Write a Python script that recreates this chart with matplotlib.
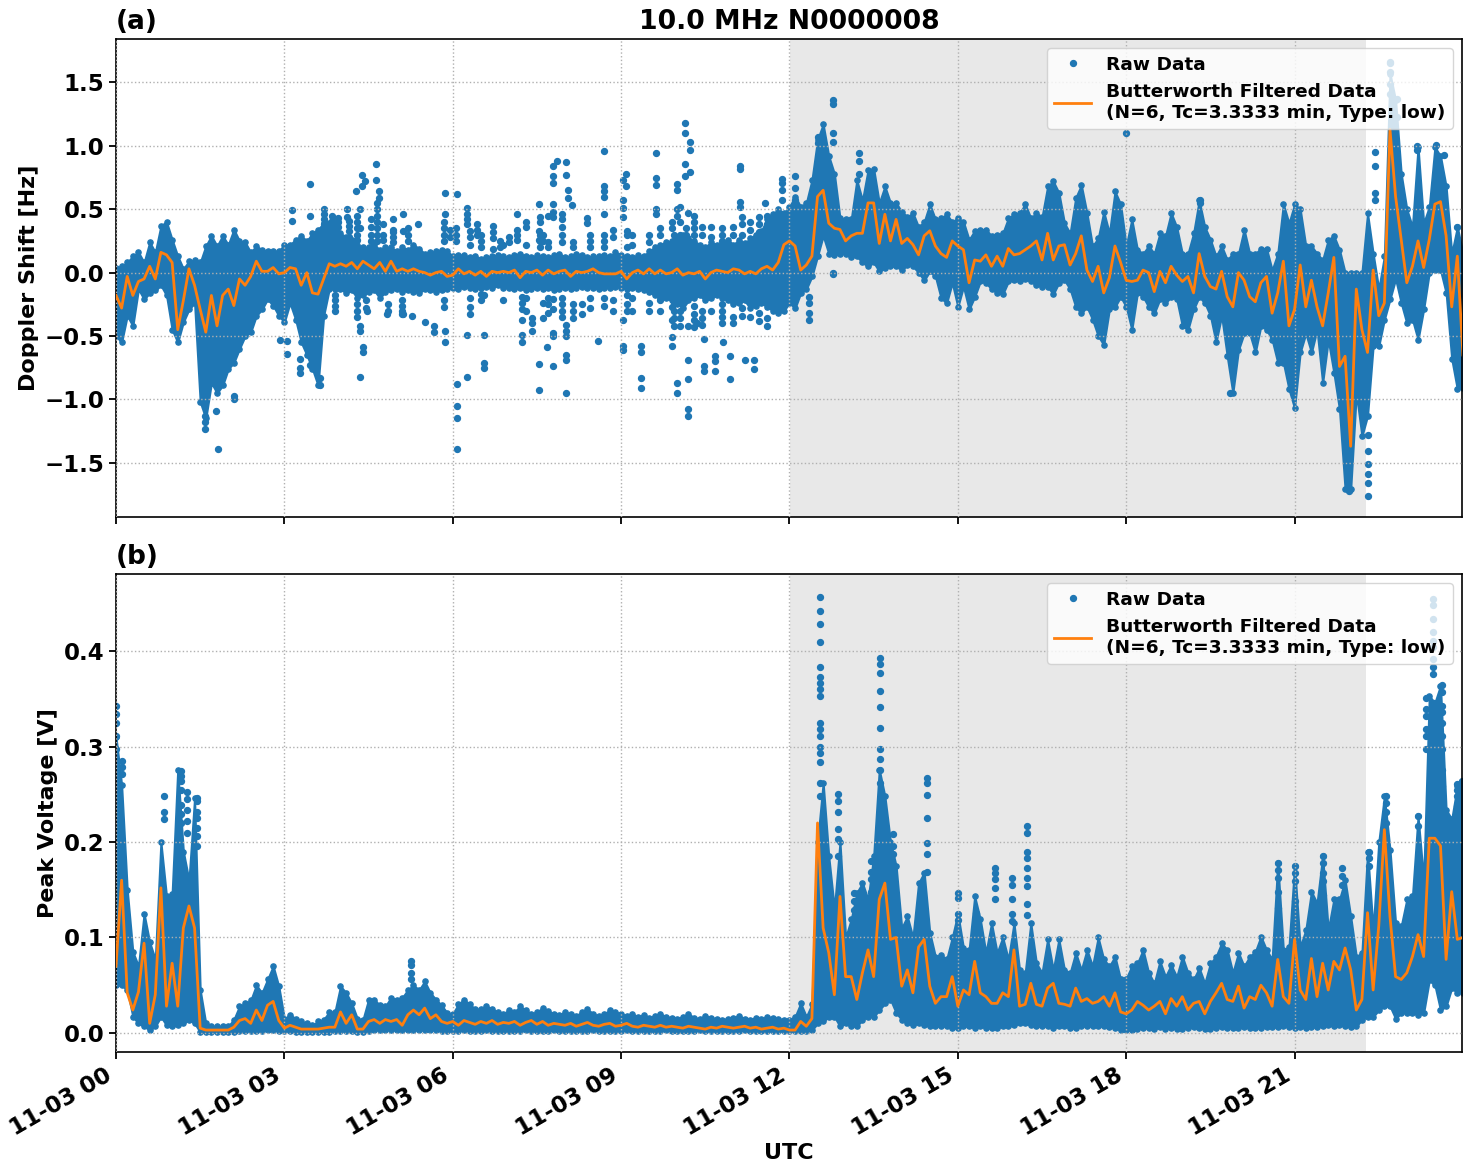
import numpy as np
import pandas as pd
import matplotlib
matplotlib.use('Agg')
import matplotlib.pyplot as plt
import matplotlib.dates as mdates

# one sample every 0.1 h, one row per hour
doppler_hi = [
    .04,.05,.08,.13,.16,.08,.24,.16,.37,.40,
    .26,.13,.03,.09,.10,.08,.21,.29,.21,.29,
    .22,.34,.25,.24,.16,.21,.18,.17,.17,.17,
    .22,.22,.26,.29,.25,.31,.34,.39,.39,.37,
    .31,.28,.26,.22,.2,.2,.22,.18,.2,.2,
    .17,.2,.18,.22,.19,.15,.16,.17,.18,.17,
    .13,.14,.14,.12,.13,.11,.12,.13,.14,.13,
    .12,.14,.15,.13,.12,.14,.13,.12,.14,.15,
    .12,.13,.15,.14,.12,.13,.13,.14,.13,.16,
    .14,.13,.12,.14,.13,.17,.2,.22,.24,.25,
    .28,.3,.27,.25,.22,.2,.24,.22,.22,.26,
    .22,.26,.23,.27,.3,.33,.42,.46,.5,.47,
    .52,.6,.52,.55,.73,1.05,1.17,.92,.78,.43,
    .42,.42,.73,.57,.81,.82,.55,.68,.55,.55,
    .48,.44,.47,.36,.40,.54,.42,.43,.46,.40,
    .43,.4,.26,.33,.34,.34,.29,.3,.31,.43,
    .46,.47,.54,.43,.47,.44,.68,.72,.63,.39,
    .31,.59,.69,.47,.21,.27,.48,.31,.64,.54,
    .21,.42,.18,.15,.21,.15,.31,.29,.47,.36,
    .15,.15,.31,.57,.36,.26,.13,.21,.1,.15,
    .15,.34,.15,.15,.19,.19,.02,.15,.54,.39,
    .54,.5,.21,.21,.15,.1,.26,.29,.18,0,
    0,0,0,.47,.15,-.13,.13,1.57,1.36,.78,
    .5,.36,.99,.39,.52,.99,.92,.68,.15,.36,
    .15]
doppler_lo = [
    -.5,-.55,-.34,-.42,-.13,-.21,-.16,-.14,-.1,-.18,
    -.45,-.55,-.39,-.29,-.24,-1.02,-1.15,-.87,-.95,-.89,
    -.76,-.71,-.6,-.5,-.47,-.34,-.29,-.21,-.26,-.34,
    -.39,-.24,-.37,-.55,-.65,-.76,-.89,-.34,-.13,-.13,
    -.13,-.16,-.14,-.2,-.18,-.15,-.14,-.2,-.15,-.14,
    -.13,-.15,-.14,-.15,-.16,-.13,-.14,-.15,-.14,-.13,
    -.12,-.13,-.11,-.12,-.13,-.12,-.11,-.12,-.1,-.12,
    -.12,-.13,-.12,-.14,-.13,-.12,-.13,-.12,-.14,-.13,
    -.12,-.13,-.12,-.11,-.12,-.12,-.13,-.12,-.12,-.11,
    -.12,-.13,-.12,-.13,-.14,-.15,-.18,-.2,-.2,-.22,
    -.25,-.28,-.22,-.2,-.18,-.22,-.2,-.18,-.2,-.22,
    -.25,-.24,-.22,-.28,-.26,-.24,-.27,-.3,-.32,-.3,
    -.24,-.28,-.16,-.13,-.03,.13,.29,.15,.14,.15,
    .15,.12,.13,.08,.05,.08,.01,.04,.05,.05,
    .02,.06,.05,0,-.06,.01,-.03,-.2,-.24,-.08,
    -.27,-.11,-.29,-.19,-.07,-.08,-.13,-.16,-.17,-.07,
    -.06,-.07,-.05,-.07,-.1,-.11,-.11,-.17,-.08,-.06,
    -.13,-.27,-.32,-.27,-.37,-.5,-.57,-.29,-.27,-.19,
    -.27,-.45,-.16,-.19,-.27,-.32,-.21,-.24,-.19,-.21,
    -.42,-.45,-.29,-.19,-.24,-.34,-.55,-.34,-.66,-.95,
    -.61,-.48,-.48,-.63,-.42,-.45,-.53,-.71,-.71,-.92,
    -1.07,-.63,-.48,-.63,-.45,-.87,-.53,-.79,-1.08,-1.71,
    -1.71,-.95,-1.29,-1.13,-.58,-.58,-.37,-.21,-.05,-.24,
    -.4,-.37,-.53,-.29,0,.02,.02,-.16,-.68,-.92,
    -.91]
doppler_filt = [
    -.18,-.28,-.03,-.18,-.07,-.05,.05,-.05,.16,.14,
    .08,-.45,-.22,.03,-.1,-.29,-.47,-.18,-.42,-.18,
    -.13,-.26,-.05,-.1,-.03,.09,.01,.01,.04,-.01,
    0,.04,.03,-.1,0,-.16,-.17,-.05,.07,.05,
    .07,.05,.08,.03,.09,.06,.03,.08,.01,.09,
    .01,.03,.01,.03,.01,0,-.02,0,.01,-.03,
    -.02,.03,-.01,.01,-.02,.01,-.03,.01,0,.01,
    0,.02,-.04,.01,0,.02,-.02,.02,-.01,.01,
    .02,-.03,.01,0,.01,.03,0,-.01,-.01,-.01,
    .01,-.05,0,.02,-.01,.03,-.01,.02,-.01,0,
    .03,-.02,0,-.01,.01,-.05,0,.02,.01,0,
    .03,.02,-.01,.01,-.01,.03,.05,.02,.08,.22,
    .25,.21,.02,.06,.13,.6,.65,.39,.35,.34,
    .25,.29,.31,.31,.55,.55,.23,.46,.25,.42,
    .23,.27,.22,.14,.29,.33,.21,.15,.12,.25,
    .21,.18,-.08,.1,.09,.14,.05,.13,.05,.19,
    .14,.15,.18,.21,.25,.1,.31,.1,.21,.22,
    .06,.15,.29,.02,-.07,.05,-.16,-.04,.21,.08,
    -.06,-.07,-.06,.02,0,-.15,.01,-.08,.05,-.02,
    -.07,-.03,-.16,.15,-.03,-.11,-.13,.01,-.19,-.27,
    0,-.06,-.19,-.23,-.08,-.03,-.32,-.16,.09,-.42,
    -.29,.06,-.27,-.06,-.27,-.42,-.16,.12,-.74,-.66,
    -1.37,-.13,-.45,-.63,.02,-.34,-.24,1.13,.6,.26,
    -.08,.05,.25,.04,.26,.54,.56,.29,-.27,.13,
    -.65]

voltage_hi = [
    .31,.26,.15,.085,.07,.125,.095,.077,.2,.143,
    .146,.276,.19,.16,.246,.045,.01,.007,.007,.007,
    .007,.014,.028,.031,.034,.05,.042,.056,.07,.049,
    .015,.019,.015,.012,.01,.008,.012,.014,.022,.022,
    .049,.042,.031,.015,.014,.035,.035,.029,.028,.037,
    .035,.037,.045,.05,.045,.054,.042,.035,.029,.021,
    .02,.03,.035,.03,.025,.025,.028,.025,.022,.02,
    .024,.022,.028,.024,.02,.022,.026,.023,.02,.019,
    .022,.02,.018,.022,.025,.02,.018,.02,.024,.022,
    .02,.018,.02,.017,.019,.016,.018,.02,.017,.016,
    .015,.017,.02,.016,.015,.018,.016,.015,.014,.015,
    .016,.018,.015,.014,.016,.015,.017,.016,.015,.014,
    .014,.017,.031,.017,.03,.2,.262,.185,.13,.2,
    .1,.119,.147,.157,.14,.185,.276,.248,.2,.175,
    .11,.122,.1,.157,.168,.105,.08,.082,.077,.1,
    .125,.089,.087,.143,.119,.084,.115,.084,.1,.077,
    .115,.066,.063,.115,.073,.063,.098,.066,.098,.066,
    .063,.084,.066,.087,.07,.1,.077,.07,.08,.056,
    .057,.07,.073,.087,.063,.052,.075,.059,.071,.059,
    .08,.063,.056,.068,.052,.073,.08,.094,.087,.063,
    .084,.07,.08,.085,.101,.087,.077,.178,.087,.09,
    .175,.09,.108,.148,.136,.185,.108,.14,.14,.16,
    .122,.08,.084,.19,.108,.2,.248,.192,.115,.112,
    .14,.143,.227,.16,.353,.346,.364,.234,.224,.259,
    .262]
voltage_lo = [
    .05,.05,.045,.017,.01,.007,.003,.007,.017,.008,
    .007,.008,.01,.014,.01,.001,.001,.001,.001,.001,
    .001,.001,.002,.002,.002,.002,.002,.003,.003,.002,
    .002,.002,.001,.001,.001,.001,.001,.001,.001,.002,
    .002,.002,.002,.001,.001,.002,.003,.003,.003,.003,
    .003,.003,.003,.003,.003,.003,.003,.003,.002,.002,
    .002,.002,.003,.002,.002,.002,.003,.002,.002,.002,
    .002,.002,.002,.003,.002,.002,.002,.002,.003,.002,
    .002,.002,.002,.002,.002,.003,.002,.002,.002,.002,
    .002,.003,.002,.002,.002,.002,.002,.002,.003,.002,
    .002,.002,.002,.002,.003,.002,.002,.002,.002,.002,
    .002,.002,.003,.002,.002,.002,.002,.002,.002,.002,
    .002,.002,.002,.002,.003,.01,.012,.017,.017,.007,
    .01,.007,.007,.014,.017,.017,.024,.031,.035,.021,
    .014,.01,.008,.01,.008,.007,.007,.007,.007,.005,
    .005,.007,.007,.005,.007,.005,.005,.005,.007,.007,
    .008,.01,.01,.008,.007,.007,.007,.005,.007,.007,
    .005,.005,.007,.007,.007,.007,.007,.006,.005,.003,
    .003,.003,.004,.005,.005,.004,.006,.004,.005,.004,
    .004,.005,.006,.005,.004,.004,.005,.006,.005,.005,
    .005,.006,.005,.005,.005,.006,.006,.006,.007,.006,
    .005,.006,.005,.006,.006,.007,.008,.007,.008,.007,
    .006,.007,.014,.017,.017,.024,.028,.028,.015,.021,
    .021,.021,.019,.021,.055,.05,.024,.028,.047,.042,
    .042]
voltage_filt = [
    .07,.16,.042,.024,.043,.094,.01,.04,.152,.028,
    .073,.028,.11,.133,.11,.005,.003,.003,.003,.003,
    .003,.006,.013,.015,.01,.024,.013,.029,.033,.013,
    .005,.008,.006,.004,.004,.004,.004,.005,.006,.006,
    .022,.01,.019,.004,.004,.012,.014,.01,.014,.012,
    .014,.008,.019,.024,.019,.026,.015,.019,.012,.01,
    .012,.008,.013,.011,.009,.012,.01,.013,.009,.011,
    .01,.012,.008,.011,.013,.009,.012,.008,.01,.009,
    .008,.01,.007,.009,.011,.008,.007,.009,.01,.007,
    .008,.01,.007,.006,.008,.007,.006,.008,.006,.007,
    .006,.005,.007,.006,.005,.004,.006,.005,.007,.006,
    .005,.006,.007,.005,.006,.004,.005,.006,.004,.005,
    .003,.003,.012,.007,.015,.22,.11,.084,.04,.143,
    .059,.059,.035,.063,.087,.059,.14,.157,.098,.1,
    .049,.066,.042,.09,.098,.049,.031,.038,.038,.059,
    .028,.045,.04,.075,.042,.038,.031,.031,.042,.038,
    .087,.028,.03,.052,.03,.028,.047,.052,.031,.03,
    .028,.047,.033,.036,.031,.033,.038,.028,.042,.022,
    .02,.024,.033,.029,.024,.028,.033,.02,.036,.028,
    .038,.024,.031,.033,.02,.033,.042,.052,.035,.033,
    .049,.026,.038,.035,.05,.042,.028,.077,.038,.031,
    .098,.045,.035,.078,.038,.073,.045,.075,.066,.089,
    .066,.024,.035,.126,.045,.112,.213,.122,.059,.056,
    .063,.08,.103,.08,.204,.204,.196,.077,.148,.098,
    .1]

# isolated raw samples outside the dense band: (hour, values at that hour)
doppler_stacks = [
    (3.13,[.49,.41]),(3.46,[.70,.45,-.73]),(4.27,[.64]),(4.38,[.77,.68]),(4.44,[.72]),
    (4.63,[.86,.73]),(4.68,[.64,.59]),(4.12,[.5,.44]),(4.35,[.5,.35,-.42,-.46,-.82]),
    (4.94,[.42,.34]),(5.12,[.46,.33,-.33]),(5.39,[.38]),(5.87,[.63,.46,-.46,-.55]),
    (1.81,[-1.39]),(1.59,[-1.13,-1.18,-1.23]),(1.79,[-1.09]),(2.11,[-.97,-1.0]),
    (4.40,[-.59,-.63]),(3.64,[-.89,-.83]),(3.28,[-.68,-.79,-.75]),(3.04,[-.54,-.64]),
    (2.92,[-.53]),(6.08,[.62,-.88,-1.05,-1.15,-1.39]),(5.66,[-.42,-.47]),(5.51,[-.39]),
    (5.27,[-.34]),(4.83,[-.33]),(4.47,[-.3]),(6.26,[.51,.46,.42,.38,-.49,-.82]),
    (6.44,[.38,.34,.3]),(6.71,[.37,.32,.27,.19]),(6.56,[-.18,-.49,-.71,-.75]),
    (7.14,[.46,.34,.3,.26]),(7.53,[.54,.33,.26,-.72,-.93]),(7.79,[.84,.76,.71,.54,.48,.44,-.21,-.29,-.48,-.5,-.74]),
    (7.85,[.88]),(8.01,[.87,.77,-.41,-.46,-.5,-.65,-.69,-.95]),(8.06,[.65,.59]),(8.12,[.53]),
    (8.39,[.43,.39]),(8.69,[.96,.68,.64,.6,.46]),(9.04,[.73,.57,.51,.44,-.37,-.58,-.61]),
    (9.08,[.78,.68]),(9.62,[.94,.75,.69,.5,.46]),(10.13,[1.18,1.1,.86,.76]),
    (10.23,[1.03,.97,.79]),(10.0,[.7,.65,.5,.45,-.87,-.95]),(10.2,[.47,-1.08,-1.13,-.42,-.69,-.84]),
    (11.11,[.84,.82,.56,.52]),(11.57,[.55]),(11.86,[.74,.71,.65,.57]),(12.1,[.76,.67,.57]),
    (7.23,[-.19,-.24,-.29,-.37,-.49,-.55]),(7.41,[-.36,-.4,-.46]),(7.68,[-.59]),(8.58,[-.54]),
    (9.35,[-.58,-.63,-.83,-.91]),(9.9,[.4,.35,-.27,-.37,-.51,-.58]),(10.47,[-.52,-.74,-.78]),
    (10.68,[-.66,-.7,-.78]),(10.94,[-.66,-.84]),(11.21,[-.69]),(11.37,[-.69,-.76]),
    (10.82,[-.55]),(10.35,[-.4]),(10.05,[.52,.4,.3]),(10.15,[.35,.3]),(8.3,[-.25,-.33]),
    (8.85,[.28,.34,-.22,-.3]),(9.5,[.24,.3,-.24,-.3]),(6.9,[.22,-.22]),(7.6,[.25,.3,-.24,-.36]),
    (11.0,[.3,.36,-.35,-.4]),(11.3,[.34,.4,-.35]),(10.6,[.36,.28,-.3]),
    (12.78,[1.36,1.33,1.1,1.03,0.0,-.01]),(12.5,[1.07,1.02]),(13.24,[.94,.88,.78]),
    (12.34,[-.19,-.24,-.32,-.37]),(18.0,[1.10]),(19.32,[.57,.55]),(19.85,[-.95]),
    (22.3,[-1.28,-1.41,-1.51,-1.59,-1.66,-1.76]),(21.97,[-1.72]),(22.44,[.95,.84,.63,.57]),
    (22.7,[1.66,1.65,1.58,1.49,1.41]),(22.83,[1.37,1.23]),(23.18,[1.0,.97]),(23.52,[1.01]),
    (23.66,[.93]),(23.9,[.36]),
    (3.7,[.5,.46,.42,.38,.34,.3]),(3.85,[.45,.41,.37,.32,.28]),(3.95,[.43,.4,.36,.3]),
    (4.15,[.41,.37,.33,.28]),(4.3,[.45,.4,.35,.3,.26,-.25,-.3,-.35]),(4.55,[.42,.36,.3,.25]),
    (4.65,[.55,.5,.45,.4,.35,.3,.25]),(4.75,[.38,.3,.26]),(4.93,[.32,.28,.24]),(5.2,[.35,.3,.25]),
    (5.85,[.4,.35,.3,.25,-.22,-.27]),(5.95,[.34,.28]),(6.05,[.35,.3,.25]),(3.9,[-.18,-.22,-.26,-.3]),
    (4.45,[-.22,-.28]),(4.85,[-.25,-.3]),(5.1,[-.22,-.26,-.3,-.33]),
    (6.3,[.22,.28,.33,-.2,-.27,-.33]),(6.5,[.2,.25,.3,-.17,-.22]),(6.85,[.2,.25]),(7.0,[.24,.28]),
    (7.3,[.22,.36,.4,-.2,-.3]),(7.55,[.2,.25,.3,.4,.44]),(7.7,[.2,.24,.45,-.2,-.25,-.32]),
    (7.95,[.24,.3,.36,.42,.46,-.2,-.25,-.3,-.35]),(8.15,[.2,.24,-.25,-.3,-.36]),
    (8.45,[.3,.25,.2,-.2,-.28]),(8.7,[.2,.25,.3,-.2,-.26]),(9.1,[.2,.3,.33,-.18,-.25,-.3]),
    (9.2,[.22,.3,-.2,-.3]),(9.7,[.2,.3,.35,-.22,-.3]),(9.95,[.25,.3,-.24,-.3,-.36,-.42]),
    (10.05,[.2,.24,.28,-.3,-.36,-.42]),(10.3,[.3,.35,.4,.45,-.26,-.33,-.37,-.43]),
    (10.45,[.3,.36,-.3,-.36,-.41]),(10.8,[.25,.3,.35,-.25,-.3,-.35,-.4]),
    (11.15,[.3,.38,.44,-.28,-.34]),(11.45,[.32,.38,.44,-.32,-.38]),(11.6,[.38,.45,-.36,-.42]),
]
voltage_stacks = [
    (0.0,[.343,.334,.325,.311,.297]),(0.11,[.285,.279,.271]),(0.85,[.248,.232,.224]),
    (1.15,[.274,.269,.264,.255,.239,.229,.22]),(1.27,[.252,.245,.234,.222,.21]),
    (1.45,[.246,.243,.231,.225,.215,.206,.196]),(5.26,[.075,.071,.063,.056]),
    (12.55,[.457,.442,.429,.41,.383,.373,.367,.36,.353,.325,.318,.311,.3,.293,.284,.262,.248]),
    (13.62,[.393,.387,.377,.358,.342,.319,.297,.287,.276,.262]),
    (14.45,[.267,.262,.249,.225,.199,.188,.169]),(12.87,[.25,.243,.231,.214,.203,.185]),
    (15.0,[.147,.141,.125,.118]),(15.33,[.126,.115]),(15.67,[.173,.168,.161,.152,.14]),
    (15.96,[.162,.155,.14,.125,.117]),(16.24,[.217,.21,.19,.183,.173,.162,.154,.135,.124]),
    (13.15,[.147,.138,.129]),(13.45,[.18,.169,.161,.148]),(13.85,[.208,.196,.187,.175]),
    (20.7,[.178,.171,.162,.148,.131]),(21.0,[.175,.168,.159,.138]),(21.5,[.185,.178,.168,.159,.145]),
    (21.84,[.173,.164,.155]),(22.33,[.19,.183,.175]),(22.63,[.248,.241,.231,.22]),(23.2,[.227,.217]),
    (23.47,[.455,.448,.434,.42,.411,.404,.392,.383,.376]),(23.35,[.351,.339,.332,.318,.311,.297]),
    (23.48,[.346,.337,.329]),(23.62,[.365,.357,.343,.336,.325,.311,.297,.276,.259,.239,.231]),
    (23.9,[.261,.255,.248,.238]),(23.98,[.264]),
]

title = '10.0 MHz N0000008'
panel_tags = ['(a)', '(b)']
y_labels = ['Doppler Shift [Hz]', 'Peak Voltage [V]']
filter_label = 'Butterworth Filtered Data\n(N=6, Tc=3.3333 min, Type: low)'
sunlit_hours = (12.01, 22.28)

start = pd.Timestamp('2023-11-03 00:00')


def to_time(hours):
    return start + pd.to_timedelta(np.asarray(hours, dtype=float), unit='h')


def draw_panel(ax, lo, hi, filt, stacks, tag, ylabel):
    t = to_time(np.arange(len(hi)) * 0.1)
    ax.axvspan(to_time([sunlit_hours[0]])[0], to_time([sunlit_hours[1]])[0], color='black', alpha=0.09, lw=0, zorder=0)
    # dense part of the raw data, edged with dots so the outline stays rounded
    ax.fill_between(t, lo, hi, color='C0', lw=1.5, zorder=2)
    ax.plot(t, hi, '.', color='C0', ms=7.5, zorder=2)
    ax.plot(t, lo, '.', color='C0', ms=7.5, zorder=2)
    sx = [h for h, vals in stacks for v in vals]
    sy = [v for h, vals in stacks for v in vals]
    ax.plot(to_time(sx), sy, '.', color='C0', ms=8.5, zorder=2, label='Raw Data')
    ax.plot(t, filt, color='C1', lw=2, zorder=3, label=filter_label)
    ax.grid(True, ls=':', color='#b0b0b0', lw=1.0)
    ax.set_axisbelow(False)
    ax.set_ylabel(ylabel, fontsize=16, fontweight='bold')
    ax.set_title(tag, loc='left', fontsize=19, fontweight='bold', pad=7)
    ax.tick_params(labelsize=16.5, width=1.3, length=5)
    for s in ax.spines.values():
        s.set_linewidth(1.2)
    leg = ax.legend(loc='upper right', prop={'size': 13.3, 'weight': 'bold'}, framealpha=0.8)
    leg.set_zorder(5)


fig, (ax0, ax1) = plt.subplots(2, 1, sharex=True, figsize=(14.71, 11.72), dpi=100)
fig.subplots_adjust(left=116/1471, right=1462/1471, top=1-39/1172, bottom=1-1052/1172, hspace=57/480)

draw_panel(ax0, doppler_lo, doppler_hi, doppler_filt, doppler_stacks, panel_tags[0], y_labels[0])
draw_panel(ax1, voltage_lo, voltage_hi, voltage_filt, voltage_stacks, panel_tags[1], y_labels[1])

ax0.set_title(title, fontsize=19.2, fontweight='bold', pad=7)
ax0.set_ylim(-1.929, 1.843)
ax1.set_ylim(-0.020, 0.481)
ax1.set_yticks([0, 0.1, 0.2, 0.3, 0.4])
ax0.set_yticks([-1.5, -1.0, -0.5, 0, 0.5, 1.0, 1.5])
for a in (ax0, ax1):
    for lab in a.get_yticklabels():
        lab.set_fontweight('bold')

ax1.set_xlim(start, start + pd.Timedelta(hours=23, minutes=59))
ax1.xaxis.set_major_locator(mdates.HourLocator(interval=3))
ax1.xaxis.set_major_formatter(mdates.DateFormatter('%m-%d %H'))
ax1.set_xlabel('UTC', fontsize=16, fontweight='bold', labelpad=2)
for lab in ax1.get_xticklabels():
    lab.set_rotation(30)
    lab.set_ha('right')
    lab.set_fontweight('bold')

fig.savefig('out.png', dpi=100)
